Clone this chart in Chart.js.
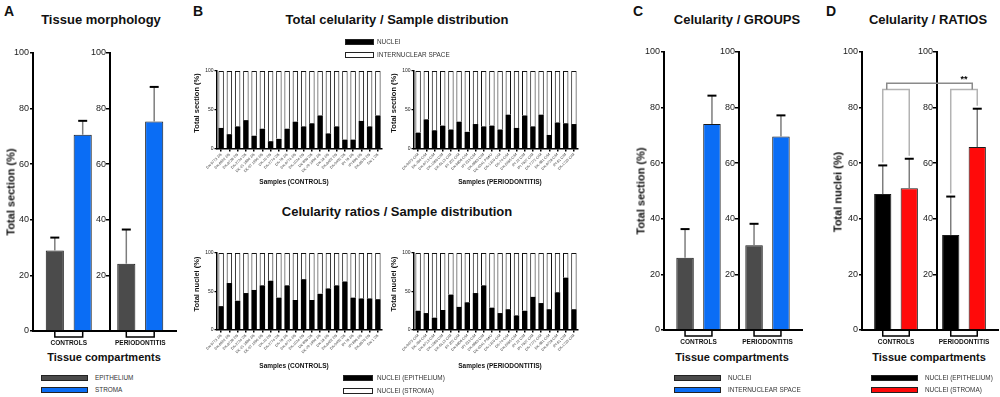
<!DOCTYPE html>
<html>
<head>
<meta charset="utf-8">
<title>Celularity figure</title>
<script src="https://cdn.jsdelivr.net/npm/chart.js@4.4.1/dist/chart.umd.min.js"></script>
<style>
  body { margin: 0; background: #fff; }
  #fig { position: relative; width: 1000px; height: 397px; overflow: hidden; background: #fff;
         font-family: 'Liberation Sans', Arial, sans-serif; color: #111; }
  #fig canvas { position: absolute; }
  .t { position: absolute; white-space: nowrap; line-height: 1; }
  .sw { position: absolute; box-sizing: border-box; border: 1px solid #222; }
</style>
</head>
<body>
<div id="fig"></div>
<script>
// ---------- data ----------
const groups = ['CONTROLS', 'PERIODONTITIS'];

// A - tissue morphology (% of section, mean and SD)
const epithelium = [29.0, 24.2];
const epitheliumSD = [4.6, 12.3];
const stroma = [70.6, 75.4];
const stromaSD = [5.0, 12.4];

// C - celularity per group
const nucleiArea = [26.0, 30.5];
const nucleiAreaSD = [10.3, 7.7];
const internuclear = [74.1, 69.6];
const internuclearSD = [10.2, 7.6];

// D - nuclei ratios
const nucleiEpith = [48.9, 34.2];
const nucleiEpithSD = [10.3, 13.8];
const nucleiStroma = [51.0, 65.8];
const nucleiStromaSD = [10.6, 13.8];

// B - per sample distribution
const controlSamples = ['DK-9773 2/6', 'DK-8602 2/6', 'DK-8738 2/6', 'DK-2724 2/6', 'DK-21 1880 2/6',
  'DK-97 1990 2/6', 'DK-10 2/6', 'DK-2774 2/6', 'DK-78 2/6', 'DK-9774 2/6', 'DK-1024 2/6', 'DK-866 2/6',
  'DK-79 1990 2/6', 'DK-18 2/6', 'DK-8452 2/6', 'DK-0462 2/6', 'IPI 78 2/6', 'IPI 866 2/6', 'DK-8679 2/6', 'DK-1 2/6'];
const perioSamples = ['DK-9073 C/M', 'DK-780 C/M', 'DK-9713 C/M', 'DK-1366 C/M', 'DK-SL13 C/M',
  'IPI 202 C/M', 'DK-9806 C/M', 'IPI 233 C/M', 'DK-9863 C/M', 'DK-0341 P/M/U', 'DK-1319 C/M', 'DK-74 C/M',
  'DK-5465 C/M', 'IPI 22 C/M', 'IPI 7627 C/M', 'DK-7772 C/M', 'DK-981 C/M', 'DK-9728 C/M', 'IPI 81 C/M', 'DK-1733 C/M'];

const ctrlNuclei = [27, 19, 29, 37, 17, 26, 10, 13, 26, 35, 29, 33, 43, 20, 29, 12, 12, 36, 29, 43];
const ctrlSpace = [73, 81, 71, 63, 83, 74, 90, 87, 74, 65, 71, 67, 57, 80, 71, 88, 88, 64, 71, 57];
const perioNuclei = [21, 38, 24, 30, 25, 35, 22, 32, 29, 30, 25, 44, 27, 43, 29, 44, 18, 34, 33, 32];
const perioSpace = [79, 62, 76, 70, 75, 65, 78, 68, 71, 70, 75, 56, 73, 57, 71, 56, 82, 66, 67, 68];

const ctrlEpith = [31, 61, 38, 48, 52, 58, 64, 42, 58, 39, 66, 39, 47, 54, 58, 63, 42, 41, 41, 40];
const ctrlStroma = [69, 39, 62, 52, 48, 42, 36, 58, 42, 61, 34, 61, 53, 46, 42, 37, 58, 59, 59, 60];
const perioEpith = [25, 22, 16, 26, 46, 30, 36, 48, 58, 29, 22, 27, 19, 25, 43, 35, 27, 49, 68, 27];
const perioStroma = [75, 78, 84, 74, 54, 70, 64, 52, 42, 71, 78, 73, 81, 75, 57, 65, 73, 51, 32, 73];

const GREY = '#4b4b4b', BLUE = '#0a6df5', RED = '#ff0a0a', BLACK = '#000';

// ---------- helpers ----------
const fig = document.getElementById('fig');
Chart.defaults.font.family = "'Liberation Sans', Arial, sans-serif";
Chart.defaults.color = '#222';

function text(str, x, y, size, opts = {}) {
  const d = document.createElement('div');
  d.className = 't';
  d.textContent = str;
  d.style.left = x + 'px';
  d.style.top = y + 'px';
  d.style.fontSize = size + 'px';
  d.style.fontWeight = opts.bold ? 'bold' : 'normal';
  if (opts.color) d.style.color = opts.color;
  let tf = opts.left ? 'translate(0,-50%)' : 'translate(-50%,-50%)';
  if (opts.rot) tf += ' rotate(-90deg)';
  d.style.transform = tf;
  fig.appendChild(d);
}

function swatch(x, y, w, h, color) {
  const d = document.createElement('div');
  d.className = 'sw';
  d.style.left = x + 'px'; d.style.top = y + 'px';
  d.style.width = w + 'px'; d.style.height = h + 'px';
  d.style.background = color;
  fig.appendChild(d);
}

// error bars (upper only), grey stem + black cap
const errorBars = {
  id: 'errorBars',
  afterDatasetsDraw(chart) {
    const ctx = chart.ctx, y = chart.scales.y;
    chart.data.datasets.forEach((ds, i) => {
      if (!ds.errors) return;
      chart.getDatasetMeta(i).data.forEach((bar, j) => {
        const top = y.getPixelForValue(ds.data[j] + ds.errors[j]);
        ctx.save();
        ctx.strokeStyle = '#7d7d7d';
        ctx.lineWidth = 1.5;
        ctx.beginPath(); ctx.moveTo(bar.x, bar.y); ctx.lineTo(bar.x, top); ctx.stroke();
        ctx.strokeStyle = '#000';
        ctx.lineWidth = 2;
        ctx.beginPath(); ctx.moveTo(bar.x - 4.5, top); ctx.lineTo(bar.x + 4.5, top); ctx.stroke();
        ctx.restore();
      });
    });
  }
};

// small bracket under each group of bars
const groupBrackets = {
  id: 'groupBrackets',
  afterDraw(chart) {
    const ctx = chart.ctx, b = chart.chartArea.bottom;
    const m0 = chart.getDatasetMeta(0).data, m1 = chart.getDatasetMeta(1).data;
    ctx.save();
    ctx.strokeStyle = '#000';
    ctx.lineWidth = 1.5;
    m0.forEach((bar, i) => {
      ctx.beginPath();
      ctx.moveTo(bar.x, b + 1); ctx.lineTo(bar.x, b + 6);
      ctx.lineTo(m1[i].x, b + 6); ctx.lineTo(m1[i].x, b + 1);
      ctx.stroke();
    });
    ctx.restore();
  }
};

// tick labels for the inner (second) y axis, right-aligned against it
const innerAxisLabels = {
  id: 'innerAxisLabels',
  afterDraw(chart) {
    const s = chart.scales.y2;
    if (!s) return;
    const ax = chart.scales.x.getPixelForValue(s.options.position.x);
    const ctx = chart.ctx;
    ctx.save();
    ctx.fillStyle = '#222';
    ctx.font = "9px 'Liberation Sans', Arial";
    ctx.textAlign = 'right';
    ctx.textBaseline = 'middle';
    s.ticks.forEach(t => {
      if (t.value === 0) return;
      ctx.fillText(String(t.value), ax - 4, s.getPixelForValue(t.value));
    });
    ctx.restore();
  }
};

// significance bracket between the two groups (panel D)
const significance = {
  id: 'significance',
  afterDatasetsDraw(chart, args, opts) {
    if (!opts || !opts.text) return;
    const ctx = chart.ctx, y = chart.scales.y;
    const d0 = chart.data.datasets[0], d1 = chart.data.datasets[1];
    const m0 = chart.getDatasetMeta(0).data, m1 = chart.getDatasetMeta(1).data;
    const ySub = y.getPixelForValue(opts.armLevel), yMain = y.getPixelForValue(opts.barLevel);
    ctx.save();
    ctx.lineWidth = 1.5;
    ctx.strokeStyle = '#b3b3b3';
    for (let g = 0; g < m0.length; g++) {
      const ya = y.getPixelForValue(d0.data[g] + d0.errors[g]) - 3;
      const yb = y.getPixelForValue(d1.data[g] + d1.errors[g]) - 3;
      ctx.beginPath();
      ctx.moveTo(m0[g].x, ya); ctx.lineTo(m0[g].x, ySub);
      ctx.lineTo(m1[g].x, ySub); ctx.lineTo(m1[g].x, yb);
      ctx.stroke();
    }
    const xl = m0[0].x + 4, xr = m1[1].x - 5;
    ctx.strokeStyle = '#8a8a8a';
    ctx.beginPath();
    ctx.moveTo(xl, ySub); ctx.lineTo(xl, yMain); ctx.lineTo(xr, yMain); ctx.lineTo(xr, ySub);
    ctx.stroke();
    ctx.fillStyle = '#000';
    ctx.font = "bold 9px 'Liberation Sans', Arial";
    ctx.textAlign = 'center';
    ctx.textBaseline = 'bottom';
    ctx.fillText(opts.text, (m0[1].x + m1[1].x) / 2, yMain + 1);
    ctx.restore();
  }
};

// place a canvas so that the chart area lands on `area` (page pixels)
function makePlot(area, yW, xH, m, config) {
  const left = area.l - yW - m.l, top = area.t - m.t;
  const w = area.r + m.r - left, h = area.b + xH + m.b - top;
  const cv = document.createElement('canvas');
  cv.width = w; cv.height = h;
  cv.style.left = left + 'px'; cv.style.top = top + 'px';
  fig.appendChild(cv);
  const o = config.options;
  o.responsive = false;
  o.animation = false;
  o.devicePixelRatio = 1;
  o.layout = { padding: { left: m.l, top: m.t, right: m.r, bottom: m.b } };
  o.scales.x.afterFit = s => { s.height = xH; s.paddingLeft = 0; s.paddingRight = 0; };
  o.scales.y.afterFit = s => { s.width = yW; s.paddingTop = 0; s.paddingBottom = 0; };
  if (o.scales.y2) o.scales.y2.afterFit = s => { s.width = 0; s.paddingTop = 0; s.paddingBottom = 0; };
  o.plugins = Object.assign({ legend: { display: false }, tooltip: { enabled: false } }, o.plugins);
  return new Chart(cv, config);
}

function percentAxis() {
  return {
    min: 0, max: 100,
    ticks: { stepSize: 20, font: { size: 9 }, color: '#222', padding: 1 },
    grid: { display: true, drawOnChartArea: false, drawTicks: true, tickLength: 3, color: '#000', lineWidth: 1.5 },
    border: { display: true, color: '#000', width: 2 }
  };
}

// grouped bar panel (A, C, D): two groups, second y axis between them
function groupChart(area, axis2At, series, sig) {
  const y2 = percentAxis();
  y2.type = 'linear';
  y2.position = { x: axis2At };
  y2.ticks.display = false;
  return makePlot(area, 28, 16, { l: 3, t: 8, r: 3, b: 2 }, {
    type: 'bar',
    data: {
      labels: groups,
      datasets: series.map(s => ({
        label: s.label, data: s.data, errors: s.sd, backgroundColor: s.color,
        borderColor: '#1b1b1b', borderWidth: 1, categoryPercentage: 0.78, barPercentage: 0.65
      }))
    },
    options: {
      plugins: { significance: sig || {} },
      scales: {
        x: { grid: { display: false, drawTicks: false },
             border: { display: true, color: '#000', width: 2 },
             ticks: { font: { size: 6.5, weight: 'bold' }, color: '#111', padding: 8, maxRotation: 0 } },
        y: percentAxis(),
        y2: y2
      }
    },
    plugins: [errorBars, groupBrackets, innerAxisLabels, significance]
  });
}

// stacked 100% sample panel (B)
function sampleChart(area, labels, lower, upper) {
  return makePlot(area, 18, 30, { l: 8, t: 5, r: 4, b: 2 }, {
    type: 'bar',
    data: {
      labels: labels,
      datasets: [
        { data: lower, backgroundColor: BLACK, borderColor: BLACK, borderWidth: 0,
          barPercentage: 0.66, categoryPercentage: 1 },
        { data: upper, backgroundColor: '#fff', borderColor: '#111', borderWidth: 1,
          barPercentage: 0.66, categoryPercentage: 1 }
      ]
    },
    options: {
      scales: {
        x: { stacked: true,
             grid: { display: true, drawOnChartArea: false, drawTicks: true, tickLength: 2.5, offset: false,
                     color: '#000', lineWidth: 1.5 },
             border: { display: true, color: '#000', width: 1.5 },
             ticks: { font: { size: 3.6 }, color: '#333', minRotation: 45, maxRotation: 45, autoSkip: false, padding: 1 } },
        y: { stacked: true, min: 0, max: 100,
             ticks: { stepSize: 50, font: { size: 5 }, color: '#222', padding: 1 },
             grid: { display: true, drawOnChartArea: false, drawTicks: true, tickLength: 2.5, color: '#000', lineWidth: 1.2 },
             border: { display: true, color: '#000', width: 1.5 } }
      }
    }
  });
}

// ---------- panel A ----------
groupChart({ l: 33, r: 176, t: 53, b: 331 }, 0.577, [
  { label: 'EPITHELIUM', data: epithelium, sd: epitheliumSD, color: GREY },
  { label: 'STROMA', data: stroma, sd: stromaSD, color: BLUE }
]);
text('A', 9, 11, 14, { bold: true });
text('Tissue morphology', 101, 19, 13, { bold: true });
text('Total section (%)', 11, 192, 11, { bold: true, rot: true });
text('Tissue compartments', 104, 357, 11, { bold: true });
swatch(41, 375, 47, 6, GREY);
swatch(41, 387, 47, 6, BLUE);
text('EPITHELIUM', 95, 378, 6.4, { left: true, color: '#333' });
text('STROMA', 95, 390, 6.4, { left: true, color: '#333' });

// ---------- panel B ----------
sampleChart({ l: 217, r: 382, t: 71, b: 149 }, controlSamples, ctrlNuclei, ctrlSpace);
sampleChart({ l: 414, r: 578, t: 71, b: 149 }, perioSamples, perioNuclei, perioSpace);
sampleChart({ l: 217, r: 382, t: 253, b: 330 }, controlSamples, ctrlEpith, ctrlStroma);
sampleChart({ l: 414, r: 578, t: 253, b: 330 }, perioSamples, perioEpith, perioStroma);
text('B', 198, 11, 14, { bold: true });
text('Total celularity / Sample distribution', 397, 19, 13, { bold: true });
text('Celularity ratios / Sample distribution', 397, 211, 13, { bold: true });
text('Total section (%)', 197, 103, 7.5, { bold: true, rot: true });
text('Total section (%)', 394, 103, 7.5, { bold: true, rot: true });
text('Total nuclei (%)', 197, 284, 7.5, { bold: true, rot: true });
text('Total nuclei (%)', 394, 284, 7.5, { bold: true, rot: true });
text('Samples (CONTROLS)', 294, 182, 6.5, { bold: true });
text('Samples (PERIODONTITIS)', 500, 182, 6.5, { bold: true });
text('Samples (CONTROLS)', 294, 366, 6.5, { bold: true });
text('Samples (PERIODONTITIS)', 500, 366, 6.5, { bold: true });
swatch(345, 39, 29, 6, BLACK);
swatch(345, 52, 29, 6, '#fff');
text('NUCLEI', 377, 42, 6.4, { left: true, color: '#333' });
text('INTERNUCLEAR SPACE', 377, 55, 6.4, { left: true, color: '#333' });
swatch(343, 375, 30, 6, BLACK);
swatch(343, 388, 30, 6, '#fff');
text('NUCLEI (EPITHELIUM)', 377, 378, 6.4, { left: true, color: '#333' });
text('NUCLEI (STROMA)', 377, 391, 6.4, { left: true, color: '#333' });

// ---------- panel C ----------
groupChart({ l: 664, r: 802, t: 52, b: 330 }, 0.587, [
  { label: 'NUCLEI', data: nucleiArea, sd: nucleiAreaSD, color: GREY },
  { label: 'INTERNUCLEAR SPACE', data: internuclear, sd: internuclearSD, color: BLUE }
]);
text('C', 638, 11, 14, { bold: true });
text('Celularity / GROUPS', 737, 19, 13, { bold: true });
text('Total section (%)', 641, 191, 11, { bold: true, rot: true });
text('Tissue compartments', 732, 357, 11, { bold: true });
swatch(674, 375, 47, 6, GREY);
swatch(674, 387, 47, 6, BLUE);
text('NUCLEI', 728, 378, 6.4, { left: true, color: '#333' });
text('INTERNUCLEAR SPACE', 728, 390, 6.4, { left: true, color: '#333' });

// ---------- panel D ----------
groupChart({ l: 862, r: 998, t: 52, b: 330 }, 0.603, [
  { label: 'NUCLEI (EPITHELIUM)', data: nucleiEpith, sd: nucleiEpithSD, color: BLACK },
  { label: 'NUCLEI (STROMA)', data: nucleiStroma, sd: nucleiStromaSD, color: RED }
], { text: '**', armLevel: 86.5, barLevel: 88.8 });
text('D', 831, 11, 14, { bold: true });
text('Celularity / RATIOS', 928, 19, 13, { bold: true });
text('Total nuclei (%)', 838, 192, 11, { bold: true, rot: true });
text('Tissue compartments', 929, 357, 11, { bold: true });
swatch(871, 375, 47, 6, BLACK);
swatch(871, 387, 47, 6, RED);
text('NUCLEI (EPITHELIUM)', 925, 378, 6.4, { left: true, color: '#333' });
text('NUCLEI (STROMA)', 925, 390, 6.4, { left: true, color: '#333' });
</script>
</body>
</html>
